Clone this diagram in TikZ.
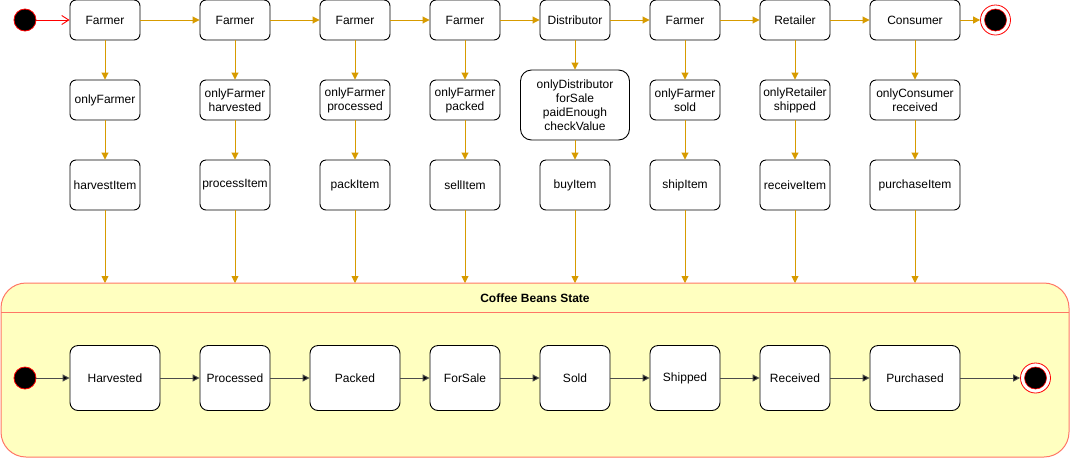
\documentclass[tikz,border=0pt]{standalone}
\usepackage{fontspec}
\setmainfont{Liberation Sans}
\usetikzlibrary{arrows.meta}
\definecolor{flow}{HTML}{D79B00}
\definecolor{contfill}{HTML}{FFFFC0}
\definecolor{contline}{HTML}{FF7766}
\tikzset{
  box/.style={draw=black, fill=white, rounded corners=6pt, align=center, font=\fontsize{12}{14}\selectfont, inner sep=1pt, line width=0.9pt},
  flowarrow/.style={draw=flow, line width=0.9pt, -{Triangle[width=7pt,length=7pt]}},
  inarrow/.style={draw=black!70, line width=1pt, -{Triangle[width=7pt,length=7pt,fill=black]}},
  initstate/.style={circle, fill=black, draw=red, line width=0.8pt, minimum size=22pt, inner sep=0pt},
  finalstate/.style={circle, fill=white, draw=red, line width=0.8pt, minimum size=30pt, inner sep=0pt,
    path picture={\filldraw[fill=black, draw=red, line width=0.6pt] (path picture bounding box.center) circle (11pt);}},
}
\begin{document}
\begin{tikzpicture}[x=1pt,y=-1pt]
\useasboundingbox (0,0) rectangle (1071,459);
% container
\draw[fill=contfill, draw=contline, line width=1pt, rounded corners=25pt] (1,283) rectangle (1069,457);
\draw[contline, line width=1pt] (1,312) -- (1069,312);
\node[font=\fontsize{12}{14}\selectfont\bfseries] (title) at (535,298) {Coffee Beans State};
\coordinate (t1) at (105,283);
\coordinate (t2) at (235,283);
\coordinate (t3) at (355,283);
\coordinate (t4) at (465,283);
\coordinate (t5) at (575,283);
\coordinate (t6) at (685,283);
\coordinate (t7) at (795,283);
\coordinate (t8) at (915,283);
% top row
\node[initstate] (si) at (25,20) {};
\node[box, minimum width=70pt, minimum height=40pt] (a1) at (105,20) {Farmer};
\node[box, minimum width=70pt, minimum height=40pt] (a2) at (235,20) {Farmer};
\node[box, minimum width=70pt, minimum height=40pt] (a3) at (355,20) {Farmer};
\node[box, minimum width=70pt, minimum height=40pt] (a4) at (465,20) {Farmer};
\node[box, minimum width=70pt, minimum height=40pt] (a5) at (575,20) {Distributor};
\node[box, minimum width=70pt, minimum height=40pt] (a6) at (685,20) {Farmer};
\node[box, minimum width=70pt, minimum height=40pt] (a7) at (795,20) {Retailer};
\node[box, minimum width=90pt, minimum height=40pt] (a8) at (915,20) {Consumer};
\node[finalstate] (sf) at (995.5,20) {};
% second row
\node[box, minimum width=70pt, minimum height=40pt] (b1) at (105,100) {onlyFarmer};
\node[box, minimum width=70pt, minimum height=40pt] (b2) at (235,100) {onlyFarmer\\harvested};
\node[box, minimum width=70pt, minimum height=40pt] (b3) at (355,100) {onlyFarmer\\processed};
\node[box, minimum width=70pt, minimum height=40pt] (b4) at (465,100) {onlyFarmer\\packed};
\node[box, minimum width=109pt, minimum height=70pt, rounded corners=11pt] (b5) at (575,105) {onlyDistributor\\forSale\\paidEnough\\checkValue};
\node[box, minimum width=70pt, minimum height=40pt] (b6) at (685,100) {onlyFarmer\\sold};
\node[box, minimum width=70pt, minimum height=40pt] (b7) at (795,100) {onlyRetailer\\shipped};
\node[box, minimum width=90pt, minimum height=40pt] (b8) at (915,100) {onlyConsumer\\received};
% third row
\node[box, minimum width=70pt, minimum height=50pt] (c1) at (105,185) {harvestItem};
\node[box, minimum width=70pt, minimum height=50pt] (c2) at (235,185) {processItem};
\node[box, minimum width=70pt, minimum height=50pt] (c3) at (355,185) {packItem};
\node[box, minimum width=70pt, minimum height=50pt] (c4) at (465,185) {sellItem};
\node[box, minimum width=70pt, minimum height=50pt] (c5) at (575,185) {buyItem};
\node[box, minimum width=70pt, minimum height=50pt] (c6) at (685,185) {shipItem};
\node[box, minimum width=70pt, minimum height=50pt] (c7) at (795,185) {receiveItem};
\node[box, minimum width=90pt, minimum height=50pt] (c8) at (915,185) {purchaseItem};
% inner states
\node[initstate] (ii) at (25,378) {};
\node[box, minimum width=90pt, minimum height=65pt, rounded corners=8pt] (d1) at (115,378) {Harvested};
\node[box, minimum width=70pt, minimum height=65pt, rounded corners=8pt] (d2) at (235,378) {Processed};
\node[box, minimum width=90pt, minimum height=65pt, rounded corners=8pt] (d3) at (355,378) {Packed};
\node[box, minimum width=70pt, minimum height=65pt, rounded corners=8pt] (d4) at (465,378) {ForSale};
\node[box, minimum width=70pt, minimum height=65pt, rounded corners=8pt] (d5) at (575,378) {Sold};
\node[box, minimum width=70pt, minimum height=65pt, rounded corners=8pt] (d6) at (685,378) {Shipped};
\node[box, minimum width=70pt, minimum height=65pt, rounded corners=8pt] (d7) at (795,378) {Received};
\node[box, minimum width=90pt, minimum height=65pt, rounded corners=8pt] (d8) at (915,378) {Purchased};
\node[finalstate] (if) at (1035.5,378) {};
% top flow
\draw[red, line width=0.9pt, -{Straight Barb[width=9pt,length=7pt]}] (si) -- (a1);
\foreach \p/\q in {a1/a2,a2/a3,a3/a4,a4/a5,a5/a6,a6/a7,a7/a8,a8/sf} \draw[flowarrow] (\p) -- (\q);
\foreach \i in {1,...,8} {
  \draw[flowarrow] (a\i) -- (b\i);
  \draw[flowarrow] (b\i) -- (c\i);
  \draw[flowarrow] (c\i) -- (t\i);
}
% inner flow
\foreach \p/\q in {ii/d1,d1/d2,d2/d3,d3/d4,d4/d5,d5/d6,d6/d7,d7/d8,d8/if} \draw[inarrow] (\p) -- (\q);
\end{tikzpicture}
\end{document}
